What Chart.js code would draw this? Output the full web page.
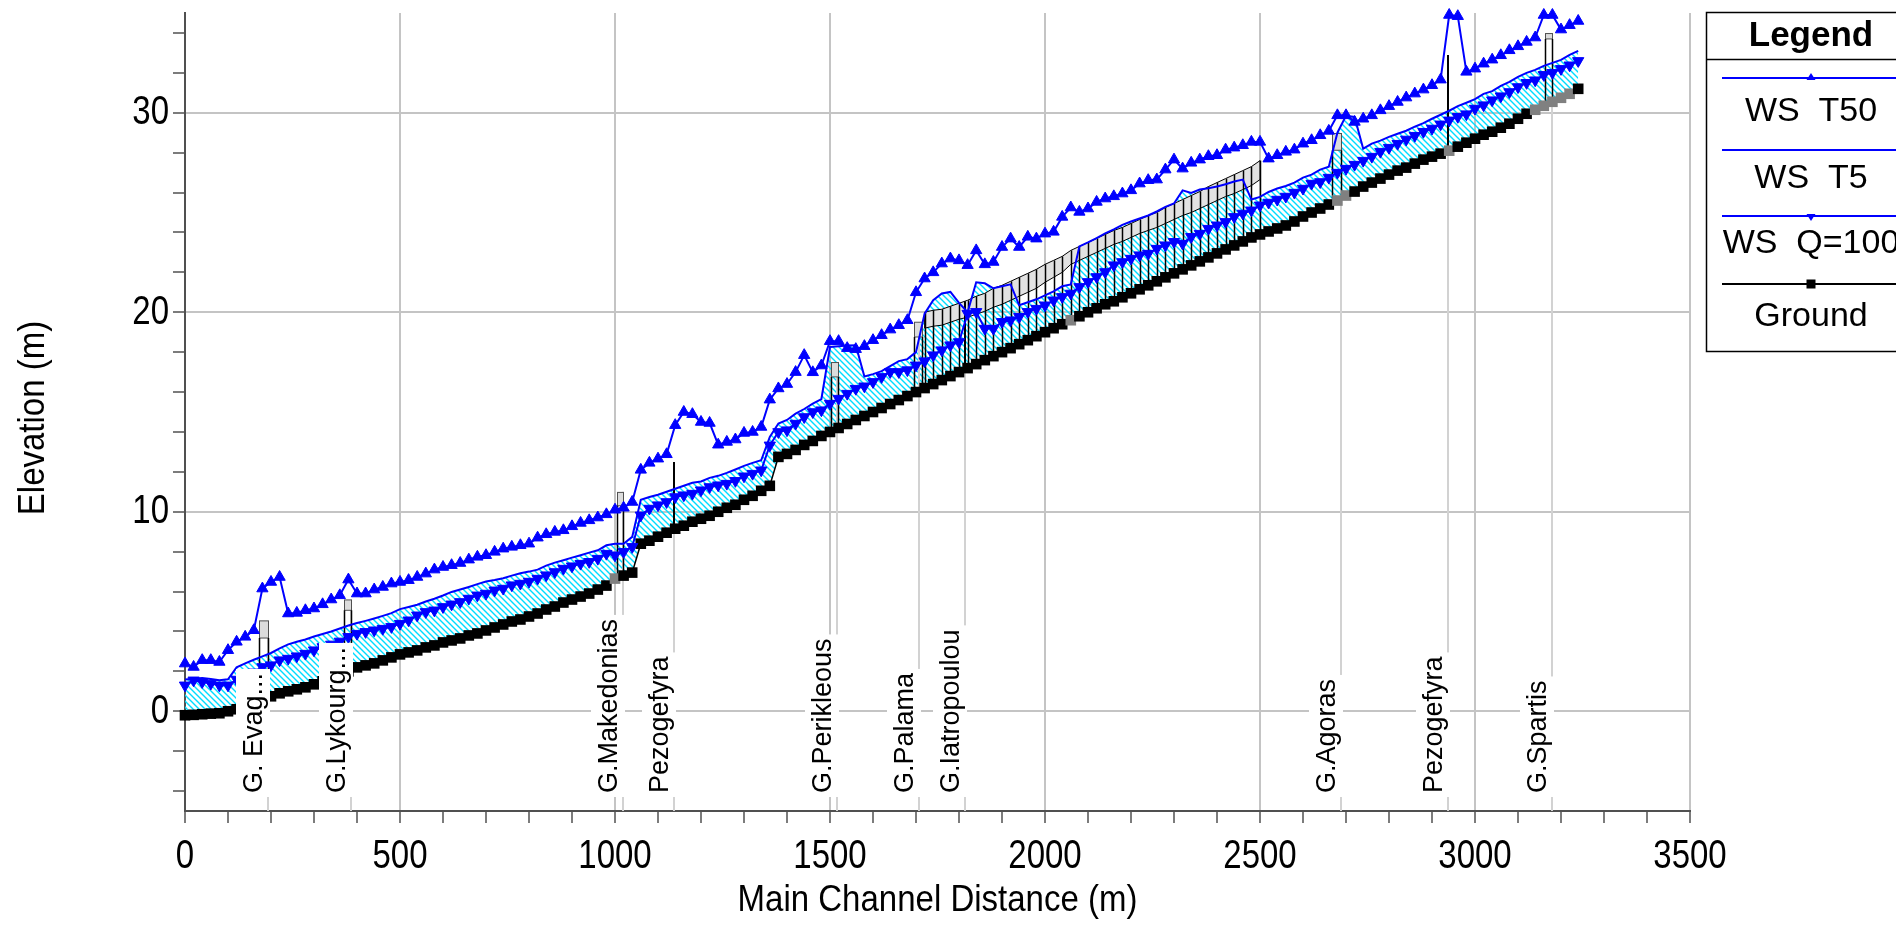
<!DOCTYPE html>
<html>
<head>
<meta charset="utf-8">
<script src="https://cdn.jsdelivr.net/npm/chart.js@4.4.1/dist/chart.umd.min.js"></script>
<style>
  html, body { margin: 0; padding: 0; background: #fff; }
  canvas { display: block; }
</style>
</head>
<body>
<canvas id="profile" width="1896" height="934"></canvas>
<script>
// Main channel distance of each cross section (m)
const stations = [
  0, 20, 40, 60, 80, 100, 120, 140, 160, 180,
  200, 220, 240, 260, 280, 300, 320, 340, 360, 380,
  400, 420, 440, 460, 480, 500, 520, 540, 560, 580,
  600, 620, 640, 660, 680, 700, 720, 740, 760, 780,
  800, 820, 840, 860, 880, 900, 920, 940, 960, 980,
  1000, 1020, 1040, 1060, 1080, 1100, 1120, 1140, 1160, 1180,
  1200, 1220, 1240, 1260, 1280, 1300, 1320, 1340, 1360, 1380,
  1400, 1420, 1440, 1460, 1480, 1500, 1520, 1540, 1560, 1580,
  1600, 1620, 1640, 1660, 1680, 1700, 1720, 1740, 1760, 1780,
  1800, 1820, 1840, 1860, 1880, 1900, 1920, 1940, 1960, 1980,
  2000, 2020, 2040, 2060, 2080, 2100, 2120, 2140, 2160, 2180,
  2200, 2220, 2240, 2260, 2280, 2300, 2320, 2340, 2360, 2380,
  2400, 2420, 2440, 2460, 2480, 2500, 2520, 2540, 2560, 2580,
  2600, 2620, 2640, 2660, 2680, 2700, 2720, 2740, 2760, 2780,
  2800, 2820, 2840, 2860, 2880, 2900, 2920, 2940, 2960, 2980,
  3000, 3020, 3040, 3060, 3080, 3100, 3120, 3140, 3160, 3180,
  3200, 3220, 3240
];

// Channel bed (m)
const groundElev = [
  -0.2, -0.18, -0.15, -0.12, -0.1, 0.0, 0.1, 0.25, 0.4, 0.55,
  0.75, 0.9, 1.0, 1.1, 1.2, 1.35, 1.5, 1.65, 1.8, 2.0,
  2.2, 2.3, 2.4, 2.55, 2.7, 2.85, 2.95, 3.05, 3.2, 3.3,
  3.45, 3.55, 3.65, 3.8, 3.9, 4.05, 4.2, 4.35, 4.5, 4.6,
  4.75, 4.9, 5.1, 5.25, 5.45, 5.6, 5.75, 5.9, 6.1, 6.3,
  6.65, 6.8, 6.95, 8.4, 8.55, 8.75, 8.95, 9.15, 9.3, 9.5,
  9.65, 9.8, 10.0, 10.2, 10.35, 10.6, 10.8, 11.05, 11.3, 12.75,
  12.9, 13.1, 13.35, 13.55, 13.8, 14.0, 14.2, 14.4, 14.6, 14.8,
  15.0, 15.2, 15.4, 15.6, 15.8, 16.0, 16.2, 16.4, 16.6, 16.8,
  17.0, 17.2, 17.4, 17.6, 17.8, 18.0, 18.2, 18.4, 18.6, 18.8,
  19.0, 19.2, 19.4, 19.6, 19.8, 20.0, 20.2, 20.4, 20.55, 20.75,
  20.95, 21.15, 21.35, 21.55, 21.75, 21.95, 22.15, 22.35, 22.55, 22.75,
  22.95, 23.15, 23.35, 23.55, 23.75, 23.9, 24.05, 24.2, 24.35, 24.55,
  24.8, 25.0, 25.2, 25.4, 25.6, 25.85, 26.05, 26.3, 26.5, 26.7,
  26.9, 27.1, 27.25, 27.45, 27.65, 27.8, 27.95, 28.1, 28.3, 28.5,
  28.7, 28.9, 29.05, 29.25, 29.45, 29.7, 29.95, 30.15, 30.35, 30.55,
  30.75, 30.95, 31.2
];

// Water surface, profile T50
const wsT50 = [
  2.39, 2.22, 2.56, 2.56, 2.47, 3.06, 3.48, 3.73, 4.06, 6.15,
  6.48, 6.73, 4.9, 4.93, 5.06, 5.15, 5.36, 5.6, 5.81, 6.6,
  5.9, 5.9, 6.1, 6.23, 6.4, 6.48, 6.57, 6.73, 6.9, 7.1,
  7.23, 7.32, 7.43, 7.6, 7.74, 7.82, 7.99, 8.15, 8.24, 8.32,
  8.4, 8.7, 8.87, 8.99, 9.07, 9.27, 9.44, 9.57, 9.71, 9.87,
  10.1, 10.2, 10.49, 12.1, 12.45, 12.66, 12.88, 14.34, 15.0, 14.89,
  14.5, 14.45, 13.36, 13.5, 13.62, 13.95, 14.0, 14.25, 15.62, 16.18,
  16.4, 17.0, 17.85, 16.99, 17.33, 18.55, 18.55, 18.2, 18.15, 18.3,
  18.6, 18.85, 19.13, 19.35, 19.6, 21.0, 21.69, 22.0, 22.44, 22.69,
  22.6, 22.36, 23.1, 22.4, 22.52, 23.27, 23.69, 23.27, 23.78, 23.69,
  23.94, 24.03, 24.78, 25.25, 25.03, 25.2, 25.53, 25.7, 25.81, 25.95,
  26.11, 26.45, 26.62, 26.65, 27.15, 27.65, 27.2, 27.49, 27.65, 27.82,
  27.87, 28.15, 28.25, 28.37, 28.54, 28.54, 27.7, 27.87, 28.04, 28.15,
  28.45, 28.62, 28.87, 29.09, 29.87, 29.87, 29.54, 29.7, 29.87, 30.12,
  30.33, 30.54, 30.76, 30.96, 31.16, 31.38, 31.66, 34.9, 34.84, 32.05,
  32.21, 32.46, 32.66, 32.88, 33.13, 33.33, 33.55, 33.77, 34.9, 34.9,
  34.17, 34.39, 34.6
];

// Water surface, profile T5
const wsT5 = [
  1.59, 1.63, 1.67, 1.62, 1.55, 1.6, 2.2, 2.4, 2.58, 2.75,
  2.92, 3.15, 3.35, 3.48, 3.6, 3.75, 3.87, 4.0, 4.15, 4.3,
  4.42, 4.53, 4.65, 4.78, 4.92, 5.12, 5.23, 5.34, 5.5, 5.64,
  5.8, 5.98, 6.1, 6.23, 6.37, 6.5, 6.58, 6.67, 6.8, 6.92,
  7.0, 7.1, 7.3, 7.45, 7.57, 7.7, 7.82, 7.95, 8.07, 8.32,
  8.4, 8.4, 8.74, 10.6, 10.74, 10.85, 11.0, 11.15, 11.3, 11.45,
  11.52, 11.7, 11.8, 11.95, 12.12, 12.3, 12.45, 12.58, 13.75, 14.42,
  14.6, 14.92, 15.15, 15.42, 15.65, 18.26, 18.3, 18.33, 18.35, 16.78,
  16.9, 17.05, 17.3, 17.55, 17.65, 18.0, 19.93, 20.6, 20.94, 21.02,
  20.47, 20.0, 21.5, 21.45, 21.2, 21.3, 21.4, 20.35, 20.5, 20.65,
  20.85, 21.05, 21.3, 21.39, 23.3, 23.5, 23.72, 23.95, 24.15, 24.38,
  24.55, 24.7, 24.85, 25.05, 25.28, 25.45, 26.11, 25.98, 26.15, 26.22,
  26.3, 26.42, 26.55, 26.65, 25.65, 25.78, 26.03, 26.2, 26.33, 26.5,
  26.75, 26.9, 27.15, 27.29, 29.0, 29.85, 29.79, 28.2, 28.45, 28.6,
  28.79, 28.95, 29.1, 29.3, 29.48, 29.7, 29.9, 30.1, 30.33, 30.5,
  30.68, 30.95, 31.08, 31.35, 31.55, 31.8, 32.0, 32.15, 32.35, 32.5,
  32.65, 32.9, 33.1
];

// Water surface, profile Q=100
const wsQ100 = [
  1.3, 1.55, 1.47, 1.39, 1.3, 1.3, 1.59, 1.8, 1.95, 2.22,
  2.31, 2.56, 2.64, 2.76, 2.89, 3.06, 3.22, 3.35, 3.5, 3.73,
  3.89, 3.98, 4.06, 4.14, 4.23, 4.39, 4.56, 4.81, 4.98, 5.06,
  5.23, 5.36, 5.48, 5.65, 5.81, 5.9, 6.06, 6.15, 6.32, 6.4,
  6.5, 6.65, 6.82, 6.98, 7.15, 7.27, 7.4, 7.49, 7.65, 7.9,
  7.82, 7.99, 8.24, 9.82, 10.16, 10.33, 10.49, 10.74, 10.83, 10.91,
  11.08, 11.24, 11.33, 11.41, 11.55, 11.78, 11.91, 12.08, 13.33, 14.0,
  14.09, 14.42, 14.75, 15.0, 15.09, 15.42, 15.67, 15.92, 16.17, 16.29,
  16.51, 16.76, 17.01, 17.01, 17.1, 17.34, 17.55, 17.85, 18.1, 18.35,
  18.51, 19.93, 20.02, 19.18, 19.18, 19.52, 19.6, 19.77, 20.02, 20.18,
  20.35, 20.6, 20.77, 20.94, 21.27, 21.52, 21.77, 22.02, 22.36, 22.52,
  22.69, 22.86, 22.94, 23.19, 23.36, 23.53, 23.44, 23.78, 23.94, 24.19,
  24.36, 24.53, 24.78, 24.95, 25.11, 25.36, 25.5, 25.65, 25.8, 26.0,
  26.2, 26.45, 26.53, 26.75, 27.0, 27.2, 27.4, 27.6, 27.8, 28.05,
  28.25, 28.45, 28.66, 28.85, 29.05, 29.21, 29.42, 29.62, 29.8, 29.93,
  30.21, 30.38, 30.63, 30.83, 31.04, 31.29, 31.5, 31.63, 31.9, 32.0,
  32.2, 32.38, 32.6
];

// sections where the ground marker is drawn grey (bridge sections)
const grayGround = [1000, 2060, 2680, 2700, 2940, 3140, 3160, 3180, 3200, 3220];

// covered reach (lid): top and low chord
const lidStations = [
  1720, 1740, 1760, 1780, 1800, 1820, 1840, 1860, 1880, 1900,
  1920, 1940, 1960, 1980, 2000, 2020, 2040, 2060, 2080, 2100,
  2120, 2140, 2160, 2180, 2200, 2220, 2240, 2260, 2280, 2300,
  2320, 2340, 2360, 2380, 2400, 2420, 2440, 2460, 2480, 2500
];
const lidTop = [
  20.0, 20.1, 20.15, 20.3, 20.45, 20.6, 20.8, 20.95, 21.2, 21.35,
  21.55, 21.75, 21.95, 22.15, 22.4, 22.6, 22.8, 23.1, 23.3, 23.5,
  23.7, 23.9, 24.1, 24.25, 24.45, 24.65, 24.85, 25.0, 25.25, 25.45,
  25.65, 25.85, 26.05, 26.3, 26.5, 26.7, 26.9, 27.1, 27.3, 27.6
];
const lidLow = [
  19.2, 19.3, 19.35, 19.5, 19.65, 19.75, 19.9, 20.05, 20.25, 20.4,
  20.6, 20.8, 21.0, 21.2, 21.5, 21.75, 22.0, 22.4, 22.6, 22.8,
  23.0, 23.2, 23.4, 23.55, 23.75, 23.95, 24.1, 24.25, 24.45, 24.65,
  24.85, 25.0, 25.2, 25.4, 25.6, 25.8, 25.95, 26.15, 26.35, 26.65
];

// bridge decks
const bridgeStart = [173, 370, 1004, 1502, 1696, 2667, 3163];
const bridgeEnd   = [194, 387, 1018, 1518, 1715, 2689, 3178];
const bridgeTop   = [4.53, 5.58, 10.97, 17.48, 19.5, 28.96, 33.97];
const bridgeLow   = [3.67, 5.06, 10.3, 16.76, 18.76, 28.12, 33.7];
const bridgeBed   = [0.6, 1.95, 6.65, 14.2, 16.0, 25.7, 30.5];

// footbridges / single piers
const footSta = [1137, 1814, 2937];
const footBed = [9.35, 17.1, 28.1];
const footTop = [12.5, 20.55, 32.9];

// section labels
const sectionNames = ["G. Evag...", "G.Lykourg...", "G.Makedonias", "Pezogefyra", "G.Perikleous",
                      "G.Palama", "G.Iatropoulou", "G.Agoras", "Pezogefyra", "G.Spartis"];
const sectionSta = [194, 387, 1018, 1137, 1517, 1706, 1814, 2689, 2937, 3178];
const sectionTop = [4.5, 5.6, 11.0, 9.4, 17.5, 19.5, 20.5, 25.8, 28.1, 30.6];

const xMajor = [0, 500, 1000, 1500, 2000, 2500, 3000, 3500];
const yMajor = [0, 10, 20, 30];

const FONT = '"Liberation Sans", Arial, sans-serif';
const BLUE = "#0000ff";

// cyan diagonal hatch for the water
const hatchCanvas = document.createElement("canvas");
hatchCanvas.width = 6;
hatchCanvas.height = 6;
const hc = hatchCanvas.getContext("2d");
hc.strokeStyle = "#00dcff";
hc.lineWidth = 1.4;
hc.beginPath();
hc.moveTo(0, 0); hc.lineTo(6, 6);
hc.moveTo(-1, 5); hc.lineTo(1, 7);
hc.moveTo(5, -1); hc.lineTo(7, 1);
hc.stroke();
const hatch = hc.createPattern(hatchCanvas, "repeat");

const toPoints = arr => stations.map((s, i) => ({ x: s, y: arr[i] }));

// text a little taller than wide, like the original plot
function tallText(ctx, str, x, y, align, stretch) {
  ctx.save();
  ctx.translate(x, y);
  ctx.scale(1, stretch);
  ctx.textAlign = align;
  ctx.textBaseline = "middle";
  ctx.fillText(str, 0, 0);
  ctx.restore();
}

const structures = {
  id: "structures",
  // lid, bridges and section lines, over the hatch but under the profiles
  beforeDatasetsDraw(chart) {
    const { ctx, scales: { x, y } } = chart;
    ctx.save();

    ctx.strokeStyle = "#d2d2d2";
    ctx.lineWidth = 2;
    sectionSta.forEach((s, i) => {
      const px = Math.round(x.getPixelForValue(s));
      ctx.beginPath();
      ctx.moveTo(px, y.getPixelForValue(-5));
      ctx.lineTo(px, y.getPixelForValue(sectionTop[i]));
      ctx.stroke();
    });

    ctx.beginPath();
    lidStations.forEach((s, i) => {
      const px = x.getPixelForValue(s), py = y.getPixelForValue(lidTop[i]);
      if (i === 0) ctx.moveTo(px, py); else ctx.lineTo(px, py);
    });
    for (let i = lidStations.length - 1; i >= 0; i--) {
      ctx.lineTo(x.getPixelForValue(lidStations[i]), y.getPixelForValue(lidLow[i]));
    }
    ctx.closePath();
    ctx.fillStyle = "#e2e2e2";
    ctx.fill();
    ctx.strokeStyle = "#000";
    ctx.lineWidth = 1;
    ctx.stroke();

    ctx.lineWidth = 1.5;
    lidStations.forEach((s, i) => {
      const k = stations.indexOf(s);
      const px = Math.round(x.getPixelForValue(s)) + 0.5;
      ctx.beginPath();
      ctx.moveTo(px, y.getPixelForValue(groundElev[k]));
      ctx.lineTo(px, y.getPixelForValue(lidTop[i]));
      ctx.stroke();
    });

    bridgeStart.forEach((s, i) => {
      const x0 = Math.round(x.getPixelForValue(s)) + 0.5;
      const x1 = Math.round(x.getPixelForValue(bridgeEnd[i])) + 0.5;
      const yt = y.getPixelForValue(bridgeTop[i]);
      const yl = y.getPixelForValue(bridgeLow[i]);
      const yb = y.getPixelForValue(bridgeBed[i]);
      ctx.fillStyle = "#dcdcdc";
      ctx.fillRect(x0, yt, x1 - x0, yl - yt);
      ctx.strokeStyle = "#505050";
      ctx.lineWidth = 1;
      ctx.strokeRect(x0, yt, x1 - x0, yl - yt);
      ctx.strokeStyle = "#000";
      ctx.lineWidth = 1.5;
      ctx.beginPath();
      ctx.moveTo(x0, yl); ctx.lineTo(x0, yb);
      ctx.moveTo(x1, yl); ctx.lineTo(x1, yb);
      ctx.stroke();
    });

    ctx.strokeStyle = "#000";
    ctx.lineWidth = 2;
    footSta.forEach((s, i) => {
      const px = Math.round(x.getPixelForValue(s));
      ctx.beginPath();
      ctx.moveTo(px, y.getPixelForValue(footBed[i]));
      ctx.lineTo(px, y.getPixelForValue(footTop[i]));
      ctx.stroke();
    });
    ctx.restore();
  },

  // vertical section names with a white box
  afterDatasetsDraw(chart) {
    const { ctx, chartArea, scales: { x } } = chart;
    ctx.save();
    ctx.font = "27px " + FONT;
    sectionNames.forEach((name, i) => {
      const px = Math.round(x.getPixelForValue(sectionSta[i]));
      const py = chartArea.bottom - 18;
      const w = ctx.measureText(name).width;
      const h = 31;
      ctx.save();
      ctx.translate(px, py);
      ctx.rotate(-Math.PI / 2);
      ctx.fillStyle = "#fff";
      ctx.fillRect(-4, -h - 1, w + 8, h + 3);
      ctx.fillStyle = "#000";
      ctx.textAlign = "left";
      ctx.textBaseline = "bottom";
      ctx.fillText(name, 0, 0);
      ctx.restore();
    });
    ctx.restore();
  },

  // tick labels, axis titles and legend box
  afterDraw(chart) {
    const { ctx, chartArea, scales: { x, y } } = chart;
    ctx.save();
    ctx.fillStyle = "#000";

    ctx.font = "33px " + FONT;
    xMajor.forEach(v => tallText(ctx, String(v), x.getPixelForValue(v), 857, "center", 1.25));
    yMajor.forEach(v => tallText(ctx, String(v), 169, y.getPixelForValue(v), "right", 1.25));

    ctx.font = "33px " + FONT;
    tallText(ctx, "Main Channel Distance (m)", (chartArea.left + chartArea.right) / 2, 901, "center", 1.12);
    ctx.save();
    ctx.translate(34, 418);
    ctx.rotate(-Math.PI / 2);
    ctx.scale(1, 1.12);
    ctx.textAlign = "center";
    ctx.textBaseline = "middle";
    ctx.fillText("Elevation (m)", 0, 0);
    ctx.restore();

    // legend
    ctx.strokeStyle = "#000";
    ctx.lineWidth = 1.5;
    ctx.strokeRect(1706.5, 12.5, 260, 339);
    ctx.beginPath();
    ctx.moveTo(1706, 59.5);
    ctx.lineTo(1896, 59.5);
    ctx.stroke();
    ctx.font = "bold 35px " + FONT;
    ctx.textAlign = "center";
    ctx.textBaseline = "middle";
    ctx.fillText("Legend", 1811, 36);

    const entries = [
      { label: "WS  T50", color: BLUE, mark: "up", ly: 78, ty: 112 },
      { label: "WS  T5", color: BLUE, mark: null, ly: 150, ty: 179 },
      { label: "WS  Q=100", color: BLUE, mark: "down", ly: 216, ty: 244 },
      { label: "Ground", color: "#000", mark: "square", ly: 284, ty: 317 }
    ];
    ctx.font = "34px " + FONT;
    entries.forEach(e => {
      ctx.strokeStyle = e.color;
      ctx.fillStyle = e.color;
      ctx.lineWidth = 2;
      ctx.beginPath();
      ctx.moveTo(1722, e.ly);
      ctx.lineTo(1896, e.ly);
      ctx.stroke();
      const cx = 1811;
      ctx.beginPath();
      if (e.mark === "up") {
        ctx.moveTo(cx, e.ly - 5); ctx.lineTo(cx + 4.5, e.ly + 2); ctx.lineTo(cx - 4.5, e.ly + 2);
        ctx.closePath(); ctx.fill();
      } else if (e.mark === "down") {
        ctx.moveTo(cx, e.ly + 5); ctx.lineTo(cx + 4.5, e.ly - 2); ctx.lineTo(cx - 4.5, e.ly - 2);
        ctx.closePath(); ctx.fill();
      } else if (e.mark === "square") {
        ctx.fillRect(cx - 4.5, e.ly - 4.5, 9, 9);
      }
      ctx.fillStyle = "#000";
      ctx.fillText(e.label, 1811, e.ty);
    });
    ctx.restore();
  }
};

new Chart(document.getElementById("profile"), {
  type: "line",
  data: {
    datasets: [
      {
        label: "WS  T50",
        data: toPoints(wsT50),
        borderColor: BLUE,
        borderWidth: 2,
        pointStyle: "triangle",
        pointRadius: 6.5,
        pointBackgroundColor: BLUE,
        pointBorderColor: BLUE,
        pointBorderWidth: 1,
        fill: false,
        clip: false
      },
      {
        label: "WS  T5",
        data: toPoints(wsT5),
        borderColor: BLUE,
        borderWidth: 2,
        pointRadius: 0,
        backgroundColor: hatch,
        fill: 3,
        clip: false
      },
      {
        label: "WS  Q=100",
        data: toPoints(wsQ100),
        borderColor: BLUE,
        borderWidth: 2,
        pointStyle: "triangle",
        pointRotation: 180,
        pointRadius: 6.5,
        pointBackgroundColor: BLUE,
        pointBorderColor: BLUE,
        pointBorderWidth: 1,
        fill: false,
        clip: false
      },
      {
        label: "Ground",
        data: toPoints(groundElev),
        borderColor: "#000",
        borderWidth: 1.5,
        pointStyle: "rect",
        pointRadius: 7.5,
        pointBorderWidth: 0,
        pointBackgroundColor: c => grayGround.includes(stations[c.dataIndex]) ? "#808080" : "#000",
        fill: false,
        clip: false
      }
    ]
  },
  options: {
    responsive: false,
    animation: false,
    events: [],
    layout: { padding: { left: 0, right: 206, top: 13, bottom: 0 } },
    plugins: {
      legend: { display: false },
      tooltip: { enabled: false },
      filler: { propagate: false, drawTime: "beforeDatasetsDraw" }
    },
    scales: {
      x: {
        type: "linear",
        min: 0,
        max: 3500,
        afterBuildTicks(scale) {
          const t = [];
          for (let v = 0; v <= 3500; v += 100) t.push({ value: v });
          scale.ticks = t;
        },
        afterFit(scale) { scale.height = 123; },
        ticks: { display: false },
        grid: {
          color: c => (c.tick && xMajor.includes(c.tick.value)) ? "#c4c4c4" : "rgba(0,0,0,0)",
          lineWidth: 2,
          tickColor: "#505050",
          tickWidth: 1.5,
          tickLength: 12
        },
        border: { color: "#505050", width: 2 }
      },
      y: {
        type: "linear",
        min: -5,
        max: 35,
        afterBuildTicks(scale) {
          const t = [];
          for (let v = -4; v <= 34; v += 2) t.push({ value: v });
          scale.ticks = t;
        },
        afterFit(scale) { scale.width = 185; },
        ticks: { display: false },
        grid: {
          color: c => (c.tick && yMajor.includes(c.tick.value)) ? "#c4c4c4" : "rgba(0,0,0,0)",
          lineWidth: 2,
          tickColor: "#505050",
          tickWidth: 1.5,
          tickLength: 12
        },
        border: { color: "#505050", width: 2 }
      }
    }
  },
  plugins: [structures]
});
</script>
</body>
</html>
